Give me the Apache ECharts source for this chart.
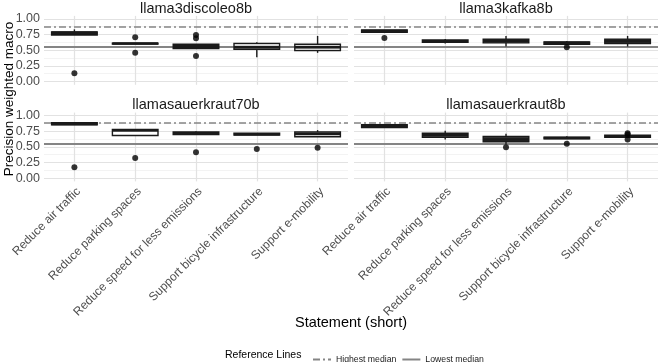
<!DOCTYPE html>
<html><head><meta charset="utf-8">
<script src="https://cdn.jsdelivr.net/npm/echarts@6/dist/echarts.min.js"></script>
<style>html,body{margin:0;padding:0;background:#fff}#c{width:659px;height:362px}</style>
</head><body><div id="c"></div>
<script>
// ---------- data ----------
const categories = ['Reduce air traffic','Reduce parking spaces','Reduce speed for less emissions','Support bicycle infrastructure','Support e-mobility'];
const panelNames = ['llama3discoleo8b','llama3kafka8b','llamasauerkraut70b','llamasauerkraut8b'];
// [lower whisker, Q1, median, Q3, upper whisker] per category
const statsDiscoleo = [[0.745,0.745,0.78,0.795,0.835],[0.60,0.60,0.61,0.615,0.615],[0.527,0.527,0.56,0.597,0.597],[0.39,0.517,0.55,0.612,0.63],[0.46,0.495,0.55,0.597,0.73]];
const statsKafka = [[0.79,0.79,0.81,0.825,0.825],[0.61,0.63,0.645,0.665,0.68],[0.56,0.62,0.65,0.68,0.73],[0.58,0.596,0.62,0.633,0.65],[0.56,0.61,0.645,0.68,0.73]];
const statsSauer70 = [[0.855,0.855,0.87,0.89,0.89],[0.685,0.685,0.765,0.78,0.78],[0.70,0.70,0.72,0.74,0.75],[0.69,0.69,0.705,0.72,0.72],[0.665,0.665,0.71,0.74,0.77]];
const statsSauer8 = [[0.81,0.81,0.835,0.857,0.857],[0.62,0.655,0.69,0.72,0.76],[0.54,0.585,0.62,0.67,0.71],[0.63,0.63,0.645,0.655,0.67],[0.655,0.655,0.67,0.687,0.687]];
// outliers: [category index, value]
const outliersDiscoleo = [[0,0.134],[1,0.708],[1,0.463],[2,0.745],[2,0.692],[2,0.41]];
const outliersKafka = [[0,0.697],[3,0.55]];
const outliersSauer70 = [[0,0.176],[1,0.324],[2,0.415],[3,0.468],[4,0.49]];
const outliersSauer8 = [[2,0.495],[3,0.553],[4,0.72],[4,0.70],[4,0.62]];
const highestMedian = 0.875;
const lowestMedian = 0.553;
const yTickValues = [0,0.25,0.5,0.75,1];
const yMinorValues = [0.125,0.375,0.625,0.875];

// ---------- styles ----------
const FONT = 'Liberation Sans, Arial, sans-serif';
const allStats = [statsDiscoleo, statsKafka, statsSauer70, statsSauer8];
const allOutliers = [outliersDiscoleo, outliersKafka, outliersSauer70, outliersSauer8];
const boxFills = [
  ['#111','#111','#222','#d4d4d4','#d4d4d4'],
  ['#222','#222','#333','#222','#333'],
  ['#111','#ffffff','#222','#222','#ffffff'],
  ['#222','#777','#333','#222','#222']
];
const gridPos = [
  {left:44, top:15.9, width:304, height:68.9},
  {left:354, top:15.9, width:304, height:68.9},
  {left:44, top:112.6, width:304, height:68.8},
  {left:354, top:112.6, width:304, height:68.8}
];
const stripY = [8.5, 8.5, 104.5, 104.5];
const REF_COLOR = '#858585';

const chart = echarts.init(document.getElementById('c'), null, {renderer:'canvas'});

const grids = gridPos.map(g => Object.assign({containLabel:false}, g));
const xAxes = gridPos.map((g,i) => ({
  type:'category', gridIndex:i, data:categories, boundaryGap:true,
  axisLine:{show:false}, axisTick:{show:false}, splitLine:{show:false},
  axisLabel:{show:i>=2, rotate:45, interval:0, fontSize:12, color:'#4d4d4d', fontFamily:FONT, margin:4, align:'right', verticalAlign:'top', padding:[0,0,0,0]}
}));
const yAxes = gridPos.map((g,i) => ({
  type:'value', gridIndex:i, min:-0.05, max:1.05, interval:0.05,
  axisLine:{show:false}, axisTick:{show:false}, splitLine:{show:false},
  axisLabel:{show:i%2===0, fontSize:12.5, color:'#4d4d4d', fontFamily:FONT, margin:4,
    formatter: v => (Math.abs(v*4 - Math.round(v*4)) < 1e-6 && v > -0.01 && v < 1.01) ? v.toFixed(2) : ''}
}));

const series = [];
gridPos.forEach((g,i) => {
  // background grid lines
  series.push({
    type:'line', xAxisIndex:i, yAxisIndex:i, data:[], silent:true,
    markLine:{silent:true, symbol:['none','none'], z:1, animation:false, label:{show:false},
      data: [
        ...yMinorValues.map(v => ({yAxis:v, lineStyle:{color:'#eeeeee', width:0.7, type:'solid'}})),
        ...yTickValues.map(v => ({yAxis:v, lineStyle:{color:'#e2e2e2', width:1.1, type:'solid'}})),
        ...categories.map(c => ({xAxis:c, lineStyle:{color:'#e2e2e2', width:1.2, type:'solid'}}))
      ]}
  });
  // reference lines (legend entries)
  series.push({
    name:'Highest median', type:'line', xAxisIndex:i, yAxisIndex:i, data:[], symbol:'none', color:REF_COLOR,
    lineStyle:{color:REF_COLOR, width:1.5, type:[7,3,2,3]},
    markLine:{silent:true, symbol:['none','none'], z:2, animation:false, label:{show:false},
      lineStyle:{color:REF_COLOR, width:1.5, type:[7,3,2,3]}, data:[{yAxis:highestMedian}]}
  });
  series.push({
    name:'Lowest median', type:'line', xAxisIndex:i, yAxisIndex:i, data:[], symbol:'none', color:REF_COLOR,
    lineStyle:{color:REF_COLOR, width:2.2, type:'solid'},
    markLine:{silent:true, symbol:['none','none'], z:2, animation:false, label:{show:false},
      lineStyle:{color:REF_COLOR, width:2.2, type:'solid'}, data:[{yAxis:lowestMedian}]}
  });
  // boxes
  const fills = boxFills[i];
  series.push({
    type:'custom', xAxisIndex:i, yAxisIndex:i, z:3, silent:true,
    data: allStats[i].map((s,k) => [k].concat(s)),
    encode:{x:0, y:[1,2,3,4,5]},
    renderItem:(params, api) => {
      const x = api.value(0);
      const lo = api.coord([x, api.value(1)]);
      const q1 = api.coord([x, api.value(2)]);
      const md = api.coord([x, api.value(3)]);
      const q3 = api.coord([x, api.value(4)]);
      const hi = api.coord([x, api.value(5)]);
      const bw = api.size([1,0])[0]*0.75;
      const st = {stroke:'#1a1a1a', lineWidth:1.4};
      return {type:'group', children:[
        {type:'line', shape:{x1:lo[0], y1:lo[1], x2:q1[0], y2:q1[1]}, style:st},
        {type:'line', shape:{x1:q3[0], y1:q3[1], x2:hi[0], y2:hi[1]}, style:st},
        {type:'rect', shape:{x:q1[0]-bw/2, y:q3[1], width:bw, height:q1[1]-q3[1]}, style:{fill:fills[params.dataIndex], stroke:'#1a1a1a', lineWidth:1.4}},
        {type:'line', shape:{x1:md[0]-bw/2, y1:md[1], x2:md[0]+bw/2, y2:md[1]}, style:{stroke:'#1a1a1a', lineWidth:2.6}}
      ]};
    }
  });
  // outliers
  series.push({
    type:'scatter', xAxisIndex:i, yAxisIndex:i, z:4, silent:true,
    data: allOutliers[i], symbolSize:6, itemStyle:{color:'#000'}
  });
});

const graphics = panelNames.map((n,i) => ({
  type:'text', x: gridPos[i].left + gridPos[i].width/2, y: stripY[i],
  style:{text:n, fontSize:14.5, fontFamily:FONT, fill:'#1a1a1a', align:'center', verticalAlign:'middle'}
}));
graphics.push({type:'text', x:351, y:323, style:{text:'Statement (short)', fontSize:14.5, fontFamily:FONT, fill:'#000', align:'center', verticalAlign:'middle'}});
graphics.push({type:'text', x:9, y:99, rotation:Math.PI/2, style:{text:'Precision weighted macro', fontSize:13.5, fontFamily:FONT, fill:'#000', align:'center', verticalAlign:'middle'}});
graphics.push({type:'text', x:225, y:355, style:{text:'Reference Lines', fontSize:10.5, fontFamily:FONT, fill:'#000', align:'left', verticalAlign:'middle'}});

chart.setOption({
  animation:false,
  backgroundColor:'#ffffff',
  grid: grids, xAxis: xAxes, yAxis: yAxes, series: series,
  legend:{data:['Highest median','Lowest median'], left:307, top:350, itemWidth:18, itemHeight:10, itemGap:5,
    itemStyle:{opacity:0},
    textStyle:{fontSize:8.7, fontFamily:FONT, color:'#1a1a1a'}, selectedMode:false},
  graphic: graphics
});
</script></body></html>
